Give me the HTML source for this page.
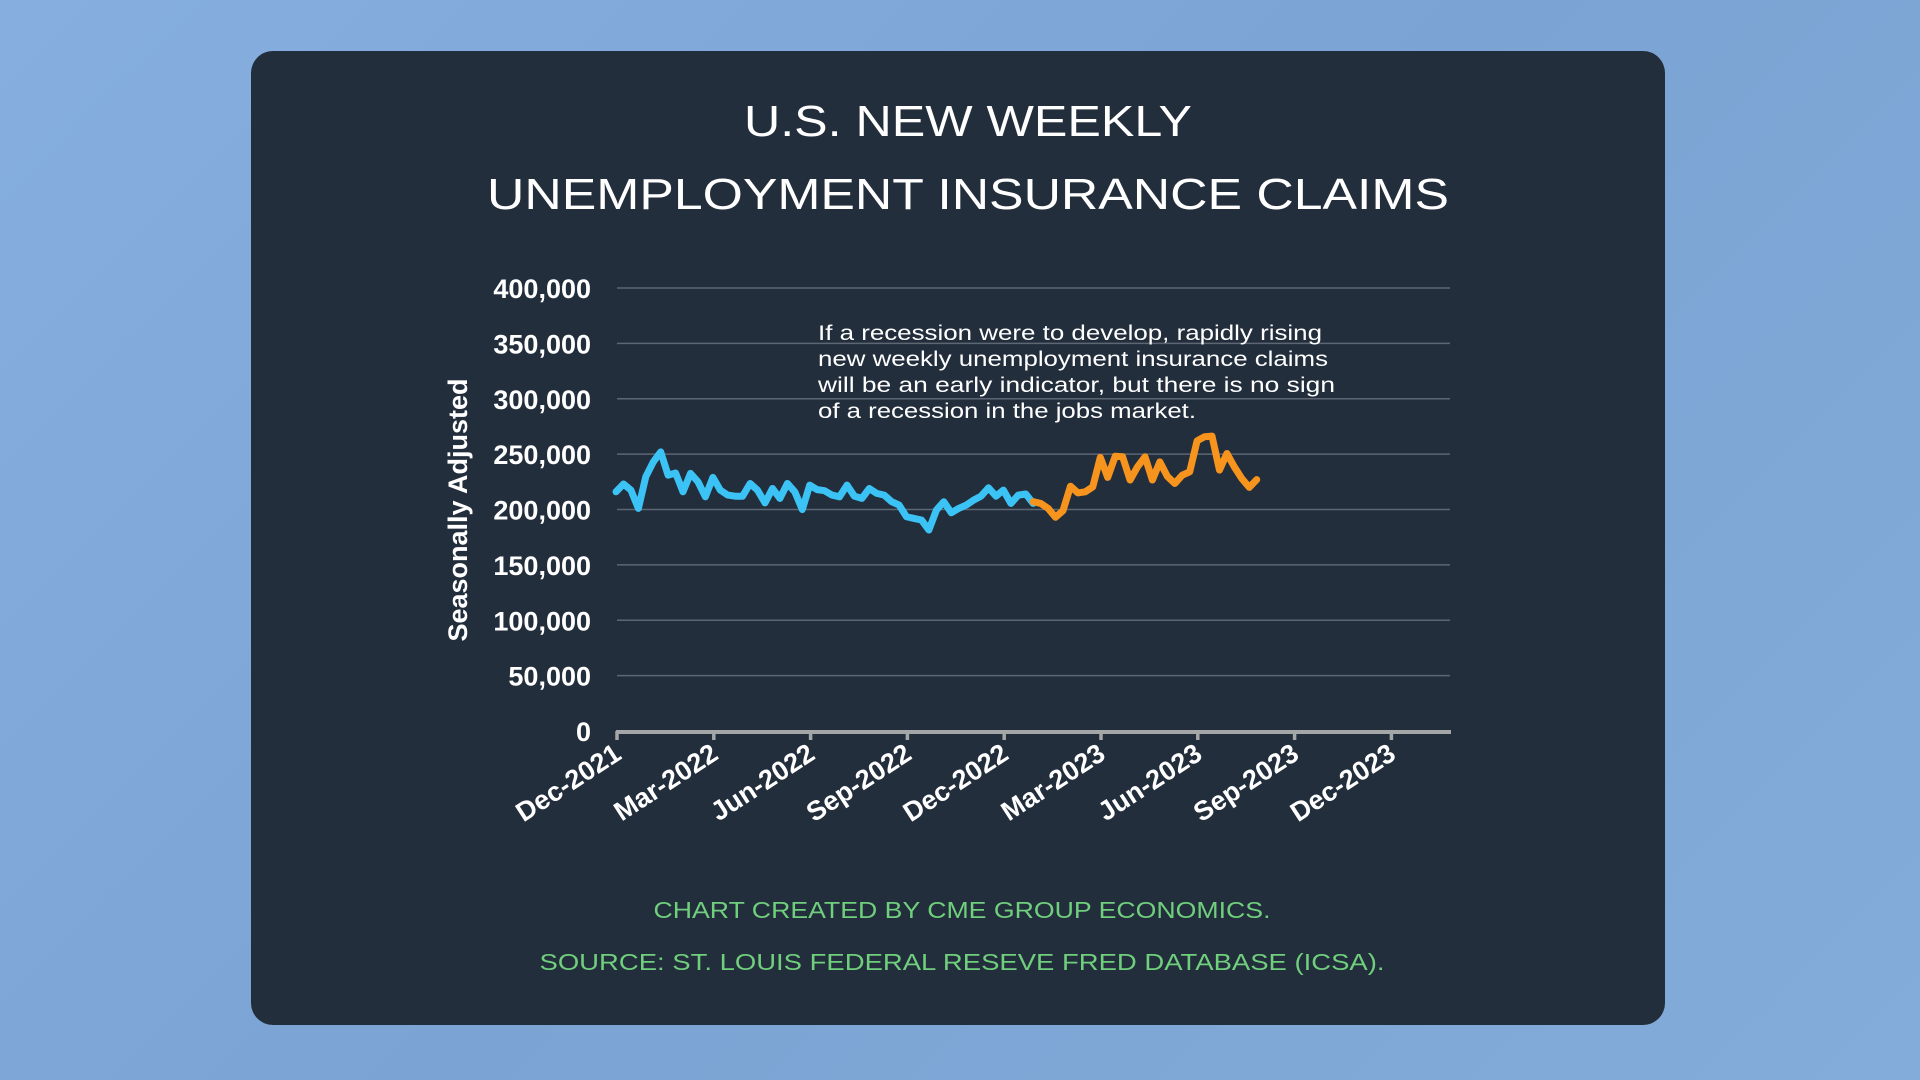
<!DOCTYPE html>
<html><head><meta charset="utf-8"><style>
html,body{margin:0;padding:0;width:1920px;height:1080px;overflow:hidden;background:linear-gradient(135deg,#86afdf,#7ba3d3 50%,#84acda);}
svg{position:absolute;left:0;top:0;}
</style></head><body>
<svg width="1920" height="1080">
<rect x="251" y="51" width="1414" height="974" rx="22" fill="#232e3c"/>
<g font-family="Liberation Sans, sans-serif" fill="#fff" text-anchor="middle">
<text x="968" y="136" font-size="44" textLength="448" lengthAdjust="spacingAndGlyphs">U.S. NEW WEEKLY</text>
<text x="968" y="209" font-size="44" textLength="962" lengthAdjust="spacingAndGlyphs">UNEMPLOYMENT INSURANCE CLAIMS</text>
</g>
<g id="grid"></g>
<g id="yticks" font-family="Liberation Sans, sans-serif" font-weight="bold" font-size="27" fill="#fff" text-anchor="end"></g>
<text transform="translate(467,510) rotate(-90)" text-anchor="middle" font-family="Liberation Sans, sans-serif" font-weight="bold" font-size="27" fill="#fff">Seasonally Adjusted</text>
<g id="xaxis"></g>
<g id="xticks" font-family="Liberation Sans, sans-serif" font-weight="bold" font-size="27" fill="#fff" text-anchor="end"></g>
<g id="series"></g>
<g font-family="Liberation Sans, sans-serif" font-size="21" fill="#fff">
<text x="818" y="340" textLength="504" lengthAdjust="spacingAndGlyphs">If a recession were to develop, rapidly rising</text>
<text x="818" y="366" textLength="510" lengthAdjust="spacingAndGlyphs">new weekly unemployment insurance claims</text>
<text x="818" y="392" textLength="517" lengthAdjust="spacingAndGlyphs">will be an early indicator, but there is no sign</text>
<text x="818" y="418" textLength="378" lengthAdjust="spacingAndGlyphs">of a recession in the jobs market.</text>
</g>
<g font-family="Liberation Sans, sans-serif" font-size="23" fill="#6fcf7c" text-anchor="middle">
<text x="962" y="918" textLength="617" lengthAdjust="spacingAndGlyphs">CHART CREATED BY CME GROUP ECONOMICS.</text>
<text x="962" y="970" textLength="845" lengthAdjust="spacingAndGlyphs">SOURCE: ST. LOUIS FEDERAL RESEVE FRED DATABASE (ICSA).</text>
</g>
</svg>
<script>
const yTicks=[0,50000,100000,150000,200000,250000,300000,350000,400000];
const yTickLabels=["0","50,000","100,000","150,000","200,000","250,000","300,000","350,000","400,000"];
const xTickLabels=["Dec-2021","Mar-2022","Jun-2022","Sep-2022","Dec-2022","Mar-2023","Jun-2023","Sep-2023","Dec-2023"];
const blueValues=[216000,223000,217500,201000,229600,243000,252000,231000,233000,216000,232600,225000,211500,229000,217500,213000,212000,212000,223500,217500,206000,219000,210000,223500,216000,200000,222000,218000,217000,213000,211500,222000,212000,210000,219000,214500,213000,207000,204000,193500,192000,190500,181500,199500,207000,197000,201000,204000,208500,212000,219600,212000,217500,205500,213000,214000,205500];
const orangeValues=[207000,205500,201000,193000,199000,221000,215000,216000,220500,247000,229000,248000,247600,226600,238600,247600,226600,243000,230000,223500,231000,234000,262000,265700,266300,235600,250600,238600,228000,220000,227000];
const NS='http://www.w3.org/2000/svg';
function y(v){return 731-v*(443/400000);}
function xTick(i){return 617+i*96.8;}
function xWeek(i){return 616+i*7.45;}
function mk(tag,attrs,parent){const e=document.createElementNS(NS,tag);for(const k in attrs)e.setAttribute(k,attrs[k]);parent.appendChild(e);return e;}
const grid=document.getElementById('grid'),yt=document.getElementById('yticks');
yTicks.forEach((v,i)=>{
 if(v>0){const l=mk('line',{x1:617,x2:1450,y1:y(v),y2:y(v),stroke:'#5d6673','stroke-width':1.5},grid);
 
 }
 const t=mk('text',{x:591,y:y(v)+10},yt);t.textContent=yTickLabels[i];
 
 
});
const xa=document.getElementById('xaxis'),xt=document.getElementById('xticks');
const ax=mk('line',{x1:616,x2:1451,y1:732,y2:732,stroke:'#a4a6a8','stroke-width':4},xa);


xTickLabels.forEach((s,i)=>{
 const x=xTick(i);
 const tk=mk('line',{x1:x,x2:x,y1:731,y2:740,stroke:'#a4a6a8','stroke-width':3.5},xa);
 
 
 const t=mk('text',{transform:`translate(${x+6},${758}) rotate(-33)`},xt);t.textContent=s;
 
 
});
const sg=document.getElementById('series');
const bp=blueValues.map((v,i)=>xWeek(i).toFixed(1)+','+y(v).toFixed(1)).join(' ');
const off=blueValues.length-1;
const op=orangeValues.map((v,i)=>xWeek(i+off).toFixed(1)+','+y(v).toFixed(1)).join(' ');
const b=mk('polyline',{points:bp,fill:'none',stroke:'#3cc3f5','stroke-width':7,'stroke-linejoin':'round','stroke-linecap':'round'},sg);


const o=mk('polyline',{points:op,fill:'none',stroke:'#f7941d','stroke-width':7,'stroke-linejoin':'round','stroke-linecap':'round'},sg);


</script>
</body></html>
